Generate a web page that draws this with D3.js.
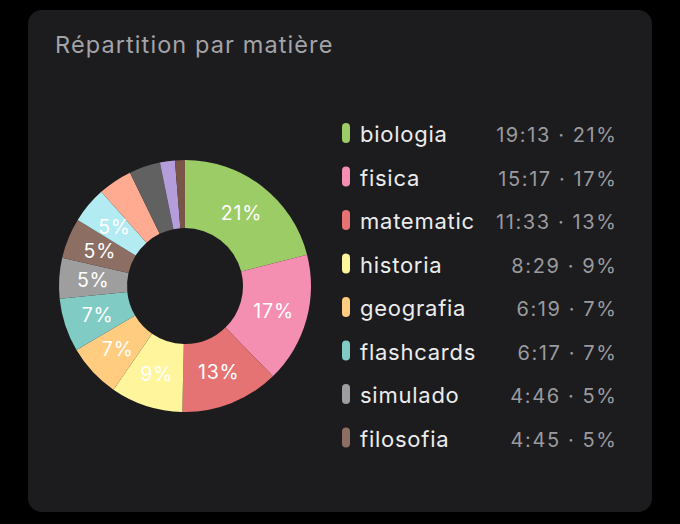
<!DOCTYPE html>
<html>
<head>
<meta charset="utf-8">
<script src="https://cdn.jsdelivr.net/npm/d3@7"></script>
<style>
  html, body { margin: 0; padding: 0; background: #000; }
  svg { display: block; }
  text { font-family: Inter, "Noto Sans", sans-serif; }
</style>
</head>
<body>
<svg id="chart" width="680" height="524"></svg>
<script>
const title = "Répartition par matière";
const subjects = ["biologia", "fisica", "matematic", "historia", "geografia", "flashcards", "simulado", "filosofia", "quimica", "ingles", "redacao", "portugues", "outros"];
const minutes = [1153, 917, 693, 509, 379, 377, 286, 285, 255, 240, 220, 105, 70];
const colors = ["#9ccc65", "#f48fb1", "#e57373", "#fff59d", "#ffcc80", "#80cbc4", "#9e9e9e", "#8d6e63", "#b2ebf2", "#ffab91", "#616161", "#b39ddb", "#795548"];
const legendCount = 8;

const svg = d3.select("#chart");
const W = 680, H = 524;

svg.append("rect").attr("width", W).attr("height", H).attr("fill", "#000");
svg.append("rect")
  .attr("x", 28).attr("y", 10).attr("width", 624).attr("height", 502)
  .attr("rx", 14).attr("fill", "#1c1c1e");

svg.append("text")
  .attr("x", 55).attr("y", 53)
  .attr("fill", "#a3a3a8")
  .attr("font-size", 23.5)
  .attr("letter-spacing", 1.1)
  .text(title);

const data = subjects.map((s, i) => ({ name: s, value: minutes[i], color: colors[i] }));
const total = d3.sum(minutes);
const pct = v => Math.round(v / total * 100);
const fmtTime = m => Math.floor(m / 60) + ":" + String(m % 60).padStart(2, "0");

const cx = 185, cy = 286, rOuter = 126, rInner = 58;
const pie = d3.pie().value(d => d.value).sort(null);
const arc = d3.arc().innerRadius(rInner).outerRadius(rOuter);
const labelArc = d3.arc().innerRadius((rInner + rOuter) / 2).outerRadius((rInner + rOuter) / 2);

const g = svg.append("g").attr("transform", `translate(${cx},${cy})`);
const arcs = pie(data);
g.selectAll("path").data(arcs).join("path")
  .attr("d", arc)
  .attr("fill", d => d.data.color);

g.selectAll("text.lbl").data(arcs.filter(d => pct(d.data.value) >= 5)).join("text")
  .attr("class", "lbl")
  .attr("transform", d => `translate(${labelArc.centroid(d)})`)
  .attr("text-anchor", "middle")
  .attr("dy", "0.36em")
  .attr("fill", "#ffffff")
  .attr("font-size", 19.5)
  .attr("letter-spacing", 0.8)
  .text(d => pct(d.data.value) + "%");

const y = d3.scaleLinear().domain([0, 1]).range([142, 185.5]);
const leg = svg.append("g");
const rows = leg.selectAll("g").data(data.slice(0, legendCount)).join("g")
  .attr("transform", (d, i) => `translate(0,${y(i)})`);
rows.append("rect")
  .attr("x", 342).attr("y", -19).attr("width", 8).attr("height", 20).attr("rx", 4)
  .attr("fill", d => d.color);
rows.append("text")
  .attr("x", 360).attr("y", 0)
  .attr("fill", "#ececec")
  .attr("font-size", 22)
  .attr("letter-spacing", 0.75)
  .text(d => d.name);
rows.append("text")
  .attr("x", 617.5).attr("y", 0)
  .attr("text-anchor", "end")
  .attr("fill", "#9a9a9e")
  .attr("font-size", 20)
  .attr("letter-spacing", 1.6)
  .text(d => fmtTime(d.value) + " · " + pct(d.value) + "%");
</script>
</body>
</html>
